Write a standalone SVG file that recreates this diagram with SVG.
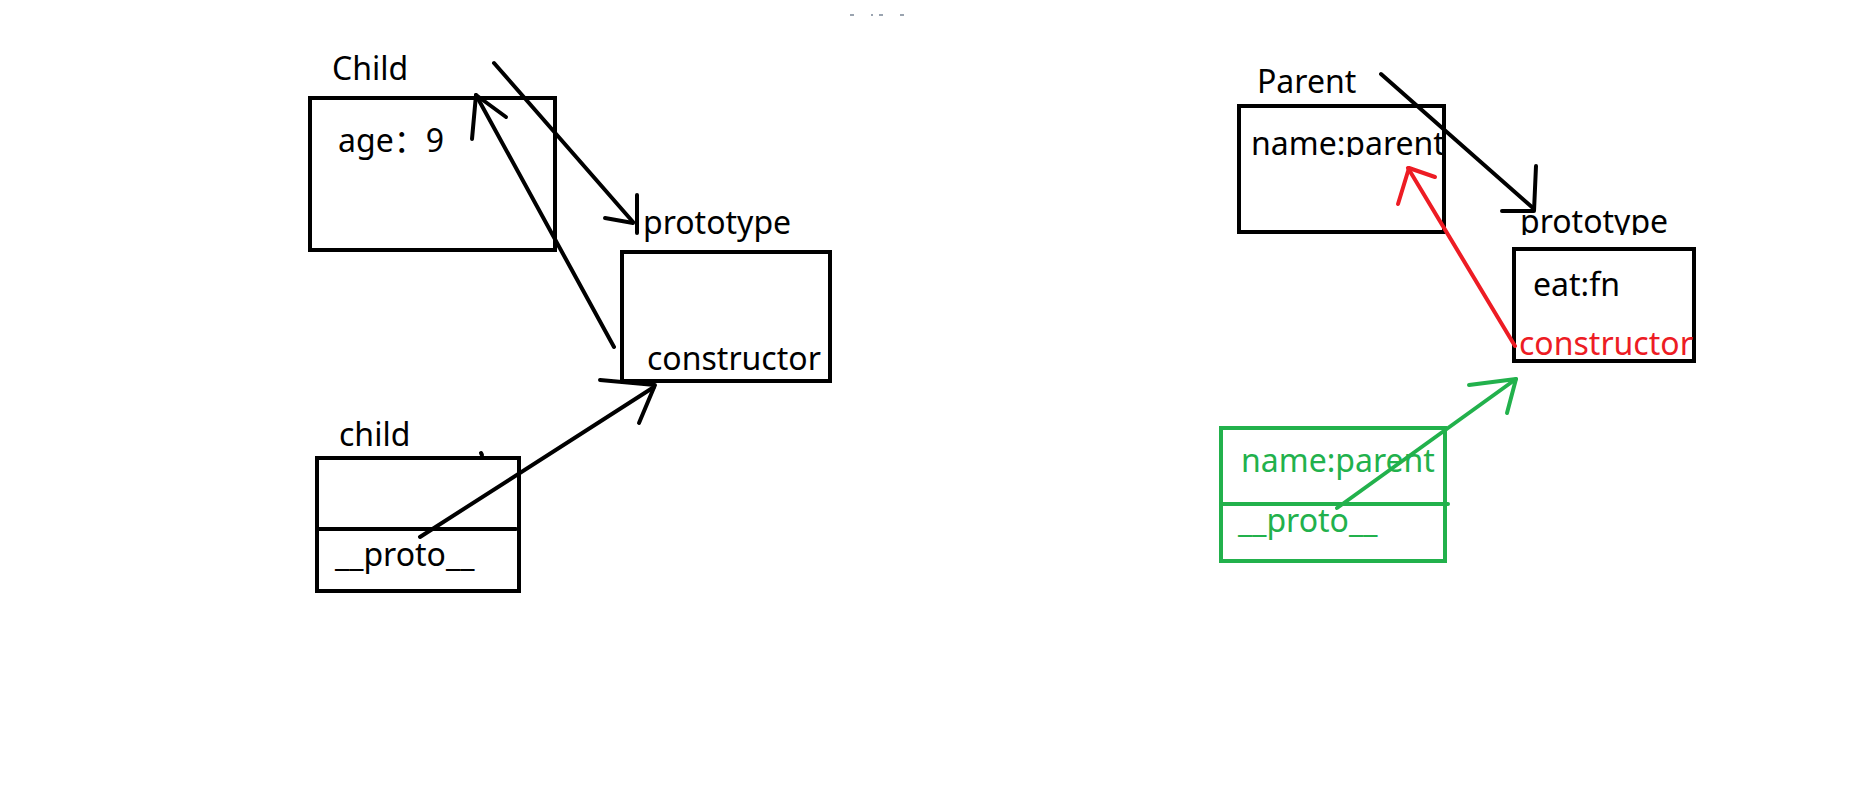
<svg xmlns="http://www.w3.org/2000/svg" width="1859" height="792" viewBox="0 0 1859 792">
<style>
text{font-family:"Noto Sans","Noto Sans CJK SC",sans-serif;font-size:32px;fill:#000}
.box{fill:none;stroke:#000;stroke-width:4}
.ln{fill:none;stroke:#000;stroke-width:4;stroke-linecap:round;stroke-linejoin:round}
.red{stroke:#ED1C24}
.grn{stroke:#22B14C}
text.r{fill:#ED1C24}
text.g{fill:#22B14C}
</style>
<defs>
<clipPath id="clipName"><rect x="1240" y="100" width="210" height="57"/></clipPath>
<clipPath id="clipProto"><rect x="1510" y="190" width="170" height="45"/></clipPath>
</defs>
<rect width="1859" height="792" fill="#fff"/>
<g id="marks" fill="#9aa4b0">
<rect x="850" y="14" width="4" height="2"/>
<rect x="871" y="14" width="2" height="2"/>
<rect x="879" y="14" width="4" height="2"/>
<rect x="900" y="14" width="4" height="2"/>
</g>
<g id="node-Child">
<text x="332" y="80">Child</text>
<rect class="box" x="310" y="98" width="245" height="152"/>
<text x="338" y="152">age：9</text>
</g>
<g id="node-ChildPrototype">
<text x="643" y="234">prototype</text>
<rect class="box" x="622" y="252" width="208" height="129"/>
<text x="647" y="370">constructor</text>
</g>
<g id="node-child">
<text x="339" y="446">child</text>
<rect class="box" x="317" y="458" width="202" height="133"/>
<line class="ln" x1="317" y1="529" x2="516" y2="529"/>
<line class="ln" x1="481" y1="453" x2="482" y2="455"/>
<text x="335" y="566">__proto__</text>
</g>
<g id="node-Parent">
<text x="1257" y="93">Parent</text>
<rect class="box" x="1239" y="106" width="205" height="126"/>
<text x="1251" y="155" clip-path="url(#clipName)">name:parent</text>
</g>
<g id="node-ParentPrototype">
<text x="1520" y="233" clip-path="url(#clipProto)">prototype</text>
<rect class="box" x="1514" y="249" width="180" height="112"/>
<text x="1533" y="296">eat:fn</text>
<text class="r" x="1519" y="355">constructor</text>
</g>
<g id="node-ParentInstance">
<rect class="box grn" x="1221" y="428" width="224" height="133"/>
<line class="ln grn" x1="1221" y1="504" x2="1448" y2="504"/>
<text class="g" x="1241" y="472">name:parent</text>
<text class="g" x="1238" y="532">__proto__</text>
</g>
<g id="connectors">
<line class="ln" x1="494" y1="63" x2="633" y2="222"/>
<polyline class="ln" points="605,218 633,223"/>
<line class="ln" x1="637" y1="195" x2="637" y2="233"/>
<line class="ln" x1="614" y1="347" x2="476" y2="95"/>
<polyline class="ln" points="472,139 476,95 506,117"/>
<line class="ln" x1="420" y1="537" x2="654" y2="387"/>
<polyline class="ln" points="600,380 655,385 639,423"/>
<line class="ln" x1="1381" y1="74" x2="1533" y2="208"/>
<polyline class="ln" points="1502,211 1534,211 1536,166"/>
<line class="ln red" x1="1515" y1="346" x2="1408" y2="168"/>
<polyline class="ln red" points="1398,204 1409,168 1435,177"/>
<line class="ln grn" x1="1337" y1="508" x2="1516" y2="379"/>
<polyline class="ln grn" points="1469,385 1516,379 1507,413"/>
</g>
</svg>
